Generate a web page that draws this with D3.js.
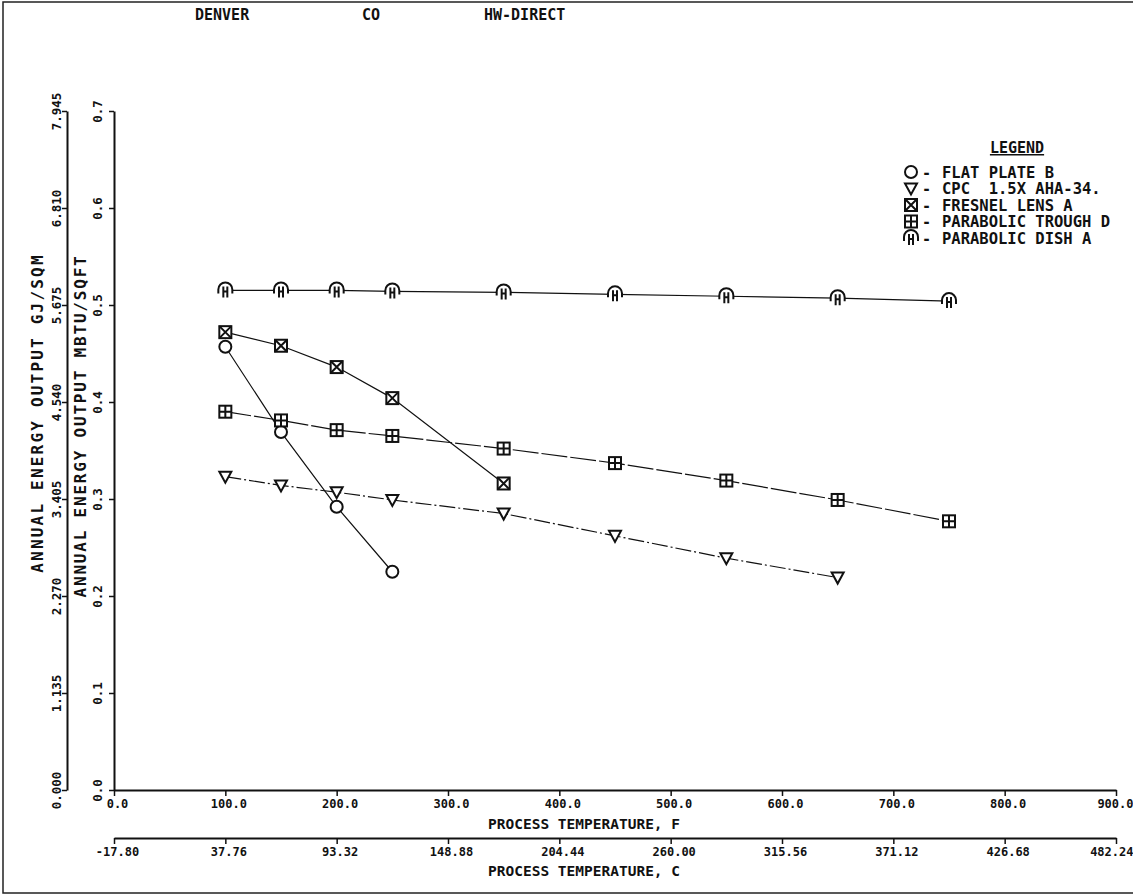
<!DOCTYPE html>
<html lang="en">
<head>
  <meta charset="UTF-8">
  <title>Denver CO HW-Direct - annual energy output</title>
  <script src="https://d3js.org/d3.v7.min.js"></script>
  <style>
    body { margin: 0; background: #fff; }
    svg { display: block; }
    text { font-family: "DejaVu Sans Mono", monospace; font-weight: bold; fill: #111; white-space: pre; }
    .axis path, .axis line { stroke: #111; }
    .axis path { stroke-width: 2px; }
    .axis line { stroke-width: 1.5px; }
    .series { fill: none; stroke: #111; stroke-width: 1.2px; }
    .mark { fill: #fff; stroke: #111; stroke-width: 2px; }
  </style>
</head>
<body>
<svg width="1133" height="896"></svg>
<script>
// process temperatures (F) at which each collector was evaluated
const temps = [100, 150, 200, 250, 350, 450, 550, 650, 750];

// annual energy output, MBTU/SQFT
const flatPlate = [0.457, 0.369, 0.292, 0.225];
const cpc       = [0.323, 0.314, 0.307, 0.299, 0.285, 0.262, 0.239, 0.219];
const fresnel   = [0.472, 0.458, 0.436, 0.404, 0.316];
const trough    = [0.390, 0.381, 0.371, 0.365, 0.352, 0.337, 0.319, 0.299, 0.277];
const dish      = [0.515, 0.515, 0.515, 0.514, 0.513, 0.511, 0.509, 0.507, 0.504];

const seriesNames = ["FLAT PLATE B", "CPC  1.5X AHA-34.", "FRESNEL LENS A", "PARABOLIC TROUGH D", "PARABOLIC DISH A"];

const fTicks = [0, 100, 200, 300, 400, 500, 600, 700, 800, 900];
const cTickLabels = ["-17.80", "37.76", "93.32", "148.88", "204.44", "260.00", "315.56", "371.12", "426.68", "482.24"];
const yTicks = [0, 0.1, 0.2, 0.3, 0.4, 0.5, 0.6, 0.7];
const gjTickLabels = ["0.000", "1.135", "2.270", "3.405", "4.540", "5.675", "6.810", "7.945"];
const headerTexts = ["DENVER", "CO", "HW-DIRECT"];

const svg = d3.select("svg");

const x = d3.scaleLinear().domain([0, 900]).range([114, 1116]);
const y = d3.scaleLinear().domain([0, 0.7]).range([790, 111]);

// page frame
svg.append("path")
  .attr("d", "M1140,2 H3 V893 H1140")
  .attr("fill", "none").attr("stroke", "#222").attr("stroke-width", 1.5);

// header
const headerX = [195, 362, 484];
svg.selectAll(".hdr").data(headerTexts).enter().append("text")
  .attr("class", "hdr")
  .attr("x", (d, i) => headerX[i]).attr("y", 20)
  .attr("font-size", "15px")
  .text(d => d);

// keep the right-most tick label inside the page
function fitLast(sel) {
  const n = sel.size();
  sel.filter((d, i) => i === n - 1).attr("text-anchor", "end").attr("dx", "17px");
}

// F axis
const fAxis = svg.append("g").attr("class", "axis")
  .attr("transform", "translate(0,790)")
  .call(d3.axisBottom(x).tickValues(fTicks).tickSize(6).tickSizeOuter(0).tickFormat(d3.format(".1f")));
fAxis.selectAll("text").attr("font-size", "12px").attr("dx", "3px");
fitLast(fAxis.selectAll("text"));
svg.append("text").attr("x", 488).attr("y", 829).attr("font-size", "14.5px")
  .text("PROCESS TEMPERATURE, F");

// C axis
const cAxis = svg.append("g").attr("class", "axis")
  .attr("transform", "translate(0,838)")
  .call(d3.axisBottom(x).tickValues(fTicks).tickSize(6).tickSizeOuter(0).tickFormat((d, i) => cTickLabels[i]));
cAxis.selectAll("text").attr("font-size", "12px").attr("dx", "3px");
fitLast(cAxis.selectAll("text"));
svg.append("text").attr("x", 488).attr("y", 876).attr("font-size", "14.5px")
  .text("PROCESS TEMPERATURE, C");

// MBTU axis
const mAxis = svg.append("g").attr("class", "axis")
  .attr("transform", "translate(114,0)")
  .call(d3.axisLeft(y).tickValues(yTicks).tickSize(5).tickSizeOuter(0).tickFormat(d3.format(".1f")));
mAxis.selectAll("text")
  .attr("transform", "rotate(-90)")
  .attr("x", 0).attr("y", -12).attr("dy", 0)
  .attr("text-anchor", "middle")
  .attr("font-size", "12.5px");
svg.append("text")
  .attr("transform", "translate(86,426) rotate(-90)")
  .attr("text-anchor", "middle").attr("font-size", "16px").attr("letter-spacing", "1.8px")
  .text("ANNUAL ENERGY OUTPUT MBTU/SQFT");

// GJ axis
const gAxis = svg.append("g").attr("class", "axis")
  .attr("transform", "translate(67,0)")
  .call(d3.axisLeft(y).tickValues(yTicks).tickSize(5).tickSizeOuter(0).tickFormat((d, i) => gjTickLabels[i]));
gAxis.selectAll("text")
  .attr("transform", "rotate(-90)")
  .attr("x", 0).attr("y", -6).attr("dy", 0)
  .attr("text-anchor", "middle")
  .attr("font-size", "12.5px");
svg.append("text")
  .attr("transform", "translate(43,413) rotate(-90)")
  .attr("text-anchor", "middle").attr("font-size", "16px").attr("letter-spacing", "2.2px")
  .text("ANNUAL ENERGY OUTPUT GJ/SQM");

// marker shapes, drawn around (0,0)
function drawMarker(g, kind) {
  if (kind === "circle") {
    g.append("circle").attr("class", "mark").attr("r", 6);
  } else if (kind === "tri") {
    g.append("path").attr("class", "mark").attr("d", "M-6,-5 L6,-5 L0,6 Z");
  } else if (kind === "boxx") {
    g.append("rect").attr("class", "mark").attr("x", -6).attr("y", -6).attr("width", 12).attr("height", 12);
    g.append("path").attr("class", "mark").attr("stroke-width", 1.4).attr("d", "M-6,-6 L6,6 M6,-6 L-6,6");
  } else if (kind === "boxplus") {
    g.append("rect").attr("class", "mark").attr("x", -6).attr("y", -6).attr("width", 12).attr("height", 12);
    g.append("path").attr("class", "mark").attr("stroke-width", 1.4).attr("d", "M0,-6 V6 M-6,0 H6");
  } else {
    g.append("path").attr("class", "mark").attr("fill", "none")
      .attr("d", "M-7,3 V-1 A7,7 0 0 1 7,-1 V3 M-2,-4 V7 M2,-4 V7 M-2,1 H2");
  }
}

const series = [
  { name: seriesNames[0], vals: flatPlate, kind: "circle", dash: null },
  { name: seriesNames[1], vals: cpc, kind: "tri", dash: "16,3,2,3" },
  { name: seriesNames[2], vals: fresnel, kind: "boxx", dash: null },
  { name: seriesNames[3], vals: trough, kind: "boxplus", dash: "26,3" },
  { name: seriesNames[4], vals: dish, kind: "dish", dash: null }
];

const line = d3.line().x(d => x(d[0])).y(d => y(d[1]));

series.forEach(s => {
  const pts = s.vals.map((v, i) => [temps[i], v]);
  svg.append("path").attr("class", "series")
    .attr("stroke-dasharray", s.dash)
    .attr("d", line(pts));
  pts.forEach(p => {
    const g = svg.append("g").attr("transform", `translate(${x(p[0])},${y(p[1])})`);
    drawMarker(g, s.kind);
  });
});

// legend
const legend = svg.append("g");
legend.append("text").attr("x", 1017).attr("y", 153).attr("text-anchor", "middle")
  .attr("font-size", "15px").attr("text-decoration", "underline").text("LEGEND");
series.forEach((s, i) => {
  const ly = 172 + i * 16.5;
  const g = legend.append("g").attr("transform", `translate(911,${ly})`);
  drawMarker(g, s.kind);
  legend.append("text").attr("x", 922).attr("y", ly + 5.5).attr("font-size", "15px").text("-");
  legend.append("text").attr("x", 942).attr("y", ly + 5.5).attr("font-size", "15.5px").text(s.name);
});
</script>
</body>
</html>
